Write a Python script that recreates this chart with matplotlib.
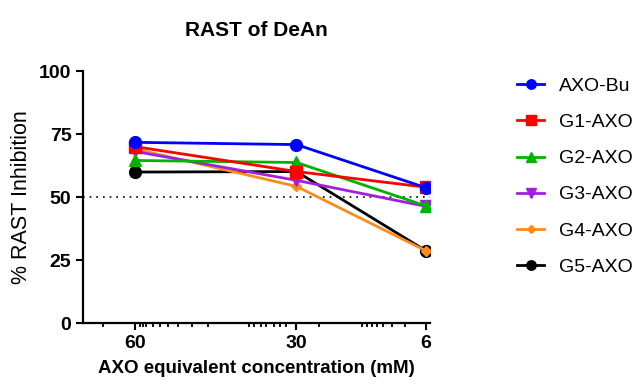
import matplotlib.pyplot as plt

plt.rcParams['font.family'] = ['Liberation Sans', 'DejaVu Sans']

# concentrations (mM) and % RAST inhibition
conc = [60, 30, 6]
axo_bu = [71.7, 70.8, 53.7]
g1_axo = [70.0, 60.1, 53.9]
g2_axo = [64.5, 63.7, 46.5]
g3_axo = [68.1, 56.6, 46.3]
g4_axo = [69.1, 54.2, 28.7]
g5_axo = [59.9, 60.1, 28.7]

names = ['AXO-Bu', 'G1-AXO', 'G2-AXO', 'G3-AXO', 'G4-AXO', 'G5-AXO']
series = [axo_bu, g1_axo, g2_axo, g3_axo, g4_axo, g5_axo]
colors = ['#0000ff', '#ff0000', '#00b300', '#a21fe0', '#ff8c1a', '#000000']
markers = ['o', 's', '^', 'v', 'D', 'o']
msizes = [8.5, 8.5, 8.5, 8.5, 5.5, 8.5]

# odd minor ticks drawn by the original software
minor_x = [65.9, 59.1, 58.5, 58.0, 56.7, 55.4, 53.9, 52.0, 49.4, 46.5,
           38.9, 37.8, 36.5, 35.6, 34.1, 33.0, 32.0, 25.9,
           17.8, 16.9, 16.0, 15.0, 13.9, 12.2, 9.8]

fig = plt.figure(figsize=(6.4, 3.88), dpi=100)
ax = fig.add_axes([0.130, 0.1675, 0.542, 0.6495])

handles = {}
# draw last series first so AXO-Bu ends on top
for name, vals, c, m, ms in reversed(list(zip(names, series, colors, markers, msizes))):
    h, = ax.plot(conc, vals, color=c, marker=m, markersize=ms, linewidth=2,
                 markeredgecolor=c, label=name)
    handles[name] = h

ax.axhline(50, color='black', linestyle=(0, (1, 3)), linewidth=1.2, zorder=0)

ax.set_xlim(69.6, 5.2)
ax.set_ylim(0, 100)
ax.set_xticks(conc)
ax.set_xticklabels([str(c) for c in conc])
ax.set_xticks(minor_x, minor=True)
ax.set_yticks([0, 25, 50, 75, 100])

for s in ['top', 'right']:
    ax.spines[s].set_visible(False)
for s in ['left', 'bottom']:
    ax.spines[s].set_linewidth(1.6)

ax.tick_params(axis='both', which='major', length=5, width=1.5, labelsize=14)
ax.tick_params(axis='x', which='minor', length=3, width=1.3)
for lab in ax.get_xticklabels() + ax.get_yticklabels():
    lab.set_fontweight('bold')

ax.set_title('RAST of DeAn', fontsize=15, fontweight='bold', pad=25)
ax.set_xlabel('AXO equivalent concentration (mM)', fontsize=13.5, fontweight='bold', labelpad=6)
ax.set_ylabel('% RAST Inhibition', fontsize=15.5, labelpad=5)

fig.legend([handles[n] for n in names], names, loc='upper left',
           bbox_to_anchor=(0.808, 0.800), frameon=False, fontsize=14,
           handlelength=1.4, handletextpad=0.75, labelspacing=0.95,
           markerscale=0.8, borderpad=0, borderaxespad=0)

fig.savefig('out.png', dpi=100)
